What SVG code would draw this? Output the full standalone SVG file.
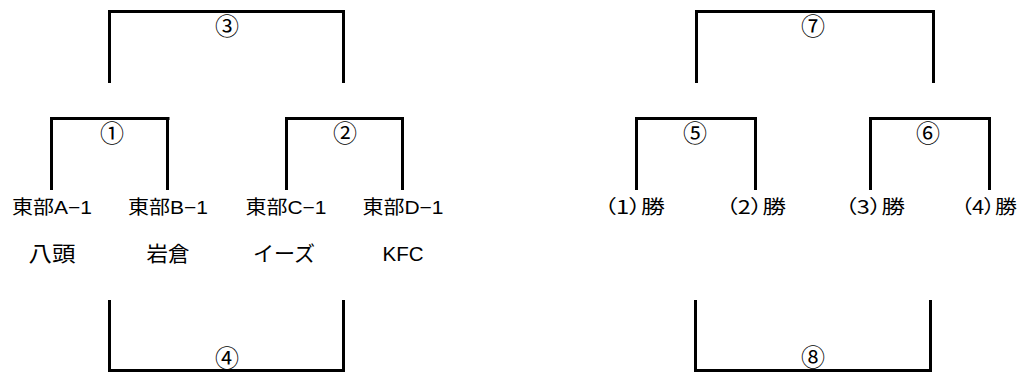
<svg xmlns="http://www.w3.org/2000/svg" width="1018" height="372" viewBox="0 0 1018 372">
<style>
.br{fill:none;stroke:#000;stroke-width:3;stroke-linejoin:miter}
.t{font-family:"Liberation Sans","Noto Sans CJK JP",sans-serif;font-size:19px;fill:#000;text-anchor:middle}
.t2{font-family:"Liberation Sans","Noto Sans CJK JP",sans-serif;font-size:21px;fill:#000;text-anchor:middle}
.w{font-family:"Noto Sans CJK JP",sans-serif;font-size:19px;fill:#000;font-feature-settings:"palt"}
.n{font-family:"Noto Sans CJK JP",sans-serif;font-size:24px;fill:#000;text-anchor:middle}
</style>
<rect width="1018" height="372" fill="#fff"/>
<g id="connectors">
<path class="br" d="M109.5 83V11.5H343.5V83"/>
<path class="br" d="M51.5 190V118.5H169.5"/>
<path class="br" d="M167.5 118.5V190"/>
<path class="br" d="M286.5 190V118.5H402.5V190"/>
<path class="br" d="M109.5 300V370.5H343.5V300"/>
<path class="br" d="M696.5 83V11.5H933.5V83"/>
<path class="br" d="M636.5 190V118.5H755.5V190"/>
<path class="br" d="M870.5 190V118.5H989.5V190"/>
<path class="br" d="M695.5 300V370.5H930.5V300"/>
</g>
<g id="match3"><text class="n" x="227" y="35">③</text></g>
<g id="match1"><text class="n" x="112" y="142">①</text></g>
<g id="match2"><text class="n" x="345" y="142">②</text></g>
<g id="match4"><text class="n" x="227" y="367">④</text></g>
<g id="match7"><text class="n" x="813" y="35">⑦</text></g>
<g id="match5"><text class="n" x="695" y="142">⑤</text></g>
<g id="match6"><text class="n" x="928" y="142">⑥</text></g>
<g id="match8"><text class="n" x="813" y="366">⑧</text></g>
<g id="teamA"><text class="t" x="52" y="214" textLength="80" lengthAdjust="spacingAndGlyphs">東部A−1</text><text class="t2" x="52" y="261" textLength="47" lengthAdjust="spacingAndGlyphs">八頭</text></g>
<g id="teamB"><text class="t" x="168" y="214" textLength="80" lengthAdjust="spacingAndGlyphs">東部B−1</text><text class="t2" x="168" y="261" textLength="43" lengthAdjust="spacingAndGlyphs">岩倉</text></g>
<g id="teamC"><text class="t" x="286" y="214" textLength="81" lengthAdjust="spacingAndGlyphs">東部C−1</text><text class="t2" x="284" y="261" textLength="62" lengthAdjust="spacingAndGlyphs">イーズ</text></g>
<g id="teamD"><text class="t" x="403" y="214" textLength="81" lengthAdjust="spacingAndGlyphs">東部D−1</text><text class="t2" x="403" y="261" textLength="41" lengthAdjust="spacingAndGlyphs">KFC</text></g>
<g id="w1"><text class="w" x="604" y="214" textLength="61" lengthAdjust="spacingAndGlyphs">（1）勝</text></g>
<g id="w2"><text class="w" x="726" y="214" textLength="60" lengthAdjust="spacingAndGlyphs">（2）勝</text></g>
<g id="w3"><text class="w" x="845" y="214" textLength="60" lengthAdjust="spacingAndGlyphs">（3）勝</text></g>
<g id="w4"><text class="w" x="961" y="214" textLength="56" lengthAdjust="spacingAndGlyphs">（4）勝</text></g>
</svg>
